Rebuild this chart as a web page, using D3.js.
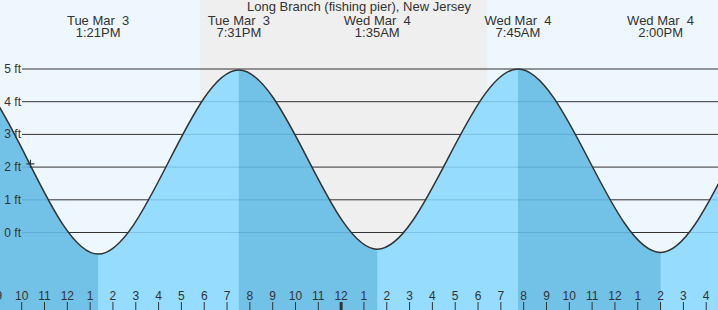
<!DOCTYPE html>
<html>
<head>
<meta charset="utf-8">
<script src="https://cdn.jsdelivr.net/npm/d3@7"></script>
<style>
    body { margin: 0; background: #eef6fe; }
    svg { display: block; font-family: "Liberation Sans", Arial, sans-serif; }
    text { fill: #333; }
</style>
</head>
<body>
<div id="chart"></div>
<script>
const title = "Long Branch (fishing pier), New Jersey";

// tide extremes (first two and last two fall outside the view)
const tideTimes = ["2026-03-03T01:05", "2026-03-03T07:15", "2026-03-03T13:21", "2026-03-03T19:31",
    "2026-03-04T01:35", "2026-03-04T07:45", "2026-03-04T14:00", "2026-03-04T20:05", "2026-03-05T02:20"];
const tideHeights = [-0.55, 5.0, -0.66, 4.97, -0.51, 5.0, -0.61, 4.95, -0.45];
const labelledEvents = [2, 3, 4, 5, 6];

const sunTimes = ["2026-03-03T17:49", "2026-03-04T06:24"];
const nowMark = { time: "2026-03-03T10:23", height: 2.1 };

const viewRange = ["2026-03-03T09:03", "2026-03-04T16:31"];
const footTicks = [0, 1, 2, 3, 4, 5];

class TideChart {

    constructor(width = 718, height = 310) {
        this.width = width;
        this.height = height;
    }

    initialize(divChartId) {
        this.parse = d3.timeParse("%Y-%m-%dT%H:%M");
        this.div = d3.select(divChartId);
    }

    update() {
        const times = tideTimes.map(this.parse);
        const data = times.map((t, i) => ({ t: t, h: tideHeights[i] }));
        const view = viewRange.map(this.parse);

        const svg = this.div.html("")
            .append("svg")
            .attr("width", this.width)
            .attr("height", this.height);

        const x = d3.scaleTime()
            .domain(view)
            .range([0, this.width]);

        const y = d3.scaleLinear()
            .domain([0, 5])
            .range([232.5, 69]);

        // day / night background
        svg.append("rect")
            .attr("width", this.width).attr("height", this.height)
            .attr("fill", "#eef6fe");

        const sun = sunTimes.map(this.parse);
        svg.append("rect")
            .attr("x", x(sun[0]))
            .attr("width", x(sun[1]) - x(sun[0]))
            .attr("height", this.height)
            .attr("fill", "#efefef");

        // grid lines
        svg.append("g").selectAll("line")
            .data(footTicks)
            .enter().append("line")
            .attr("x1", 22).attr("x2", this.width)
            .attr("y1", d => y(d)).attr("y2", d => y(d))
            .attr("stroke", "#333")
            .attr("stroke-width", 1);

        const area = d3.area()
            .x(d => x(d.t))
            .y0(this.height)
            .y1(d => y(d.h))
            .curve(d3.curveMonotoneX);

        const line = d3.line()
            .x(d => x(d.t))
            .y(d => y(d.h))
            .curve(d3.curveMonotoneX);

        svg.append("clipPath")
            .attr("id", "water")
            .append("path")
            .attr("d", area(data));

        svg.append("path")
            .attr("d", area(data))
            .attr("fill", "#96dcfe");

        // falling tide is darker
        const falling = d3.range(data.length - 1).filter(i => data[i].h > data[i + 1].h);
        svg.append("g")
            .attr("clip-path", "url(#water)")
            .selectAll("rect")
            .data(falling)
            .enter().append("rect")
            .attr("x", i => x(data[i].t))
            .attr("width", i => x(data[i + 1].t) - x(data[i].t))
            .attr("y", 0)
            .attr("height", this.height)
            .attr("fill", "#72c1e6");

        // faint grid lines through the water
        svg.append("g")
            .attr("clip-path", "url(#water)")
            .selectAll("line")
            .data(footTicks)
            .enter().append("line")
            .attr("x1", 22).attr("x2", this.width)
            .attr("y1", d => y(d)).attr("y2", d => y(d))
            .attr("stroke", "rgba(40,110,160,0.25)")
            .attr("stroke-width", 1);

        svg.append("path")
            .attr("d", line(data))
            .attr("fill", "none")
            .attr("stroke", "#333")
            .attr("stroke-width", 1.5);

        // y labels
        svg.append("g").selectAll("text")
            .data(footTicks)
            .enter().append("text")
            .attr("x", 21)
            .attr("y", d => y(d) + 4)
            .attr("text-anchor", "end")
            .attr("font-size", 12)
            .text(d => `${d} ft`);

        // hour ticks (one extra on the left so the cut-off "9" shows)
        const hours = d3.timeHour.range(d3.timeHour.offset(view[0], -1), view[1]);
        const hourFmt = d3.timeFormat("%-I");
        const ticks = svg.append("g");
        ticks.selectAll("line")
            .data(hours)
            .enter().append("line")
            .attr("x1", d => x(d)).attr("x2", d => x(d))
            .attr("y1", 302).attr("y2", this.height)
            .attr("stroke", "#333")
            .attr("stroke-width", d => d.getHours() === 0 ? 3 : 1);
        ticks.selectAll("text")
            .data(hours)
            .enter().append("text")
            .attr("x", d => x(d))
            .attr("y", 300)
            .attr("text-anchor", "middle")
            .attr("font-size", 12)
            .text(d => hourFmt(d));

        // now marker
        const nx = x(this.parse(nowMark.time));
        const ny = y(nowMark.height);
        svg.append("path")
            .attr("d", `M${nx - 4},${ny}H${nx + 4}M${nx},${ny - 4}V${ny + 4}`)
            .attr("stroke", "#333")
            .attr("stroke-width", 1.2);

        // title and event labels
        svg.append("text")
            .attr("x", this.width / 2)
            .attr("y", 11)
            .attr("text-anchor", "middle")
            .attr("font-size", 13)
            .text(title);

        const dayFmt = d3.timeFormat("%a %b %e");
        const timeFmt = d3.timeFormat("%-I:%M%p");
        const ev = svg.append("g").selectAll("g")
            .data(labelledEvents.map(i => data[i]))
            .enter().append("g")
            .attr("transform", d => `translate(${x(d.t)},0)`);
        ev.append("text")
            .attr("y", 24.5)
            .attr("text-anchor", "middle")
            .attr("font-size", 13)
            .style("white-space", "pre")
            .text(d => dayFmt(d.t));
        ev.append("text")
            .attr("y", 36.5)
            .attr("text-anchor", "middle")
            .attr("font-size", 13)
            .text(d => timeFmt(d.t));
    }
}

const chart = new TideChart();
chart.initialize("#chart");
chart.update();
</script>
</body>
</html>
